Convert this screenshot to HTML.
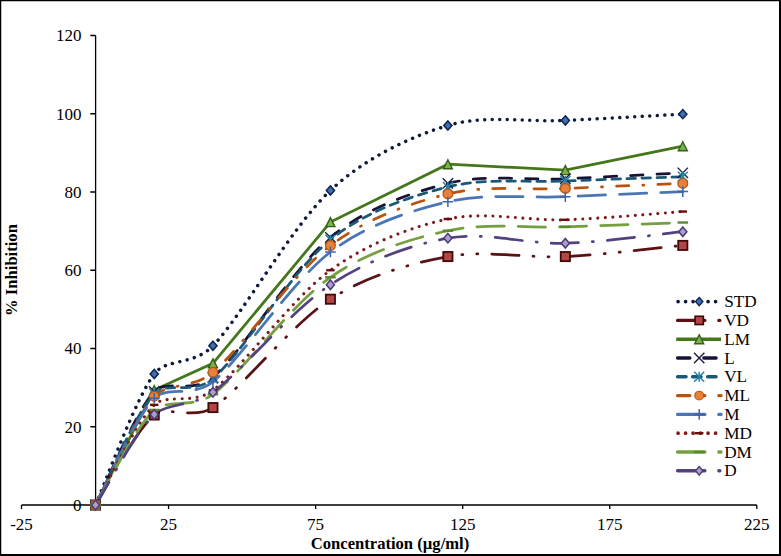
<!DOCTYPE html>
<html><head><meta charset="utf-8"><style>
html,body{margin:0;padding:0;background:#fff;}
body{width:781px;height:556px;overflow:hidden;position:relative;}
svg{position:absolute;left:0;top:0;}
text{font-family:"Liberation Serif",serif;fill:#000;}
</style></head><body>
<svg width="781" height="556" viewBox="0 0 781 556">
<rect x="0" y="0" width="781" height="556" fill="#fff"/>

<rect x="0.6" y="0.6" width="779.2" height="554.2" fill="none" stroke="#000" stroke-width="1.3"/>
<path d="M780 0V556M0 555H781" stroke="#000" stroke-width="2" fill="none"/>
<path d="M95.60 35.50V505.00 M21.50 505.00H756.80 M90.30 505.00H95.60 M90.30 426.75H95.60 M90.30 348.50H95.60 M90.30 270.25H95.60 M90.30 192.00H95.60 M90.30 113.75H95.60 M90.30 35.50H95.60 M21.50 505.00V509.00 M168.56 505.00V509.00 M315.62 505.00V509.00 M462.68 505.00V509.00 M609.74 505.00V509.00 M756.80 505.00V509.00" stroke="#000" stroke-width="1.3" fill="none"/>
<text x="81.6" y="510.80" font-size="17" text-anchor="end">0</text>
<text x="81.6" y="432.55" font-size="17" text-anchor="end">20</text>
<text x="81.6" y="354.30" font-size="17" text-anchor="end">40</text>
<text x="81.6" y="276.05" font-size="17" text-anchor="end">60</text>
<text x="81.6" y="197.80" font-size="17" text-anchor="end">80</text>
<text x="81.6" y="119.55" font-size="17" text-anchor="end">100</text>
<text x="81.6" y="41.30" font-size="17" text-anchor="end">120</text>
<text x="21.50" y="529.60" font-size="17" text-anchor="middle">-25</text>
<text x="168.56" y="529.60" font-size="17" text-anchor="middle">25</text>
<text x="315.62" y="529.60" font-size="17" text-anchor="middle">75</text>
<text x="462.68" y="529.60" font-size="17" text-anchor="middle">125</text>
<text x="609.74" y="529.60" font-size="17" text-anchor="middle">175</text>
<text x="756.80" y="529.60" font-size="17" text-anchor="middle">225</text>
<text x="390" y="549" font-size="16.6" font-weight="bold" text-anchor="middle">Concentration (µg/ml)</text>
<text transform="translate(17.2 270) rotate(-90)" font-size="16.6" font-weight="bold" text-anchor="middle">% Inhibition</text>
<path d="M95.50 505.00 C105.29 483.16 134.65 400.47 154.23 373.93 C165.98 358.01 193.58 365.95 212.96 345.76 C242.33 315.18 291.27 227.15 330.42 190.43 C364.16 158.80 408.73 137.16 447.88 125.49 C485.01 114.42 526.19 122.29 565.34 120.40 C604.49 118.51 663.22 115.18 682.80 114.14" fill="none" stroke="#0e1a3c" stroke-width="3.50" stroke-dasharray="0.01 7.49" stroke-linecap="round" stroke-dashoffset="-0.38"/>
<path d="M95.50 505.00 C105.29 490.00 134.65 431.25 154.23 415.01 C165.98 405.27 193.58 420.32 212.96 407.58 C242.33 388.28 291.27 324.37 330.42 299.20 C365.90 276.39 408.73 263.66 447.88 256.56 C486.08 249.62 526.26 258.41 565.34 256.56 C604.49 254.70 663.22 247.26 682.80 245.41" fill="none" stroke="#5a1214" stroke-width="2.75" stroke-dasharray="27.25 14.00 1.00 14.00 1.00 14.00" stroke-dashoffset="0.62" stroke-linecap="round"/>
<path d="M95.50 505.00 L154.23 389.97 L212.96 363.37 L330.42 222.13 L447.88 164.22 L565.34 170.09 L682.80 146.22" fill="none" stroke="#44761a" stroke-width="2.75"/>
<path d="M95.50 505.00 C105.29 486.09 134.65 412.80 154.23 391.54 C165.98 378.78 193.58 394.41 212.96 377.45 C242.33 351.76 291.27 269.73 330.42 237.38 C364.51 209.23 408.73 193.17 447.88 183.39 C485.57 173.98 526.19 180.46 565.34 178.70 C604.49 176.94 663.22 173.81 682.80 172.83" fill="none" stroke="#1a1236" stroke-width="2.75" stroke-dasharray="12.25 14.00" stroke-dashoffset="-4.17" stroke-linecap="round"/>
<path d="M95.50 505.00 C105.29 486.42 134.65 414.56 154.23 393.49 C165.98 380.86 193.58 395.54 212.96 378.63 C242.33 353.00 291.27 271.68 330.42 239.73 C364.52 211.90 408.73 196.69 447.88 186.91 C485.64 177.48 526.19 182.74 565.34 181.05 C604.48 179.35 663.22 177.46 682.80 176.74" fill="none" stroke="#1a5878" stroke-width="2.75" stroke-dasharray="8.50 6.50" stroke-dashoffset="-4.88" stroke-linecap="round"/>
<path d="M95.50 505.00 C105.29 486.87 134.65 418.34 154.23 396.23 C165.98 382.97 193.58 388.94 212.96 372.37 C242.33 347.26 291.27 275.34 330.42 245.60 C365.18 219.21 408.73 203.48 447.88 193.96 C485.69 184.76 526.19 190.24 565.34 188.48 C604.49 186.72 663.22 184.24 682.80 183.39" fill="none" stroke="#b8520f" stroke-width="2.75" stroke-dasharray="12.25 14.00 1.00 14.00" stroke-dashoffset="0.62" stroke-linecap="round"/>
<path d="M95.50 505.00 C105.29 487.20 134.65 418.73 154.23 398.19 C165.98 385.86 193.58 397.83 212.96 381.76 C242.33 357.40 291.27 282.05 330.42 252.06 C364.95 225.61 408.73 211.01 447.88 201.78 C485.75 192.86 526.19 198.39 565.34 196.69 C604.49 195.00 663.22 192.46 682.80 191.61" fill="none" stroke="#4a76b4" stroke-width="2.75" stroke-dasharray="27.25 14.00" stroke-dashoffset="-0.38" stroke-linecap="round"/>
<path d="M95.50 505.00 C105.29 488.31 134.65 423.95 154.23 404.84 C165.98 393.38 193.58 405.17 212.96 390.36 C242.33 367.93 291.27 298.81 330.42 270.25 C365.55 244.62 408.73 227.41 447.88 219.00 C485.69 210.87 526.22 221.02 565.34 219.78 C604.49 218.54 663.22 212.93 682.80 211.56" fill="none" stroke="#7e1a1a" stroke-width="3.10" stroke-dasharray="0.01 7.49" stroke-linecap="round" stroke-dashoffset="-3.08"/>
<path d="M95.50 505.00 C105.29 489.15 134.65 428.38 154.23 409.93 C165.98 398.85 193.58 408.87 212.96 394.28 C242.33 372.17 291.27 304.55 330.42 277.29 C365.54 252.84 408.73 239.15 447.88 230.73 C485.92 222.56 526.19 228.19 565.34 226.82 C604.49 225.45 663.22 223.23 682.80 222.52" fill="none" stroke="#74a040" stroke-width="2.75" stroke-dasharray="27.25 14.00" stroke-dashoffset="-1.38" stroke-linecap="round"/>
<path d="M95.50 505.00 C105.29 489.90 134.65 433.21 154.23 414.43 C165.98 403.16 193.58 406.59 212.96 392.32 C242.33 370.70 291.27 310.42 330.42 284.73 C366.11 261.31 408.73 245.08 447.88 238.17 C485.92 231.45 526.25 244.33 565.34 243.25 C604.49 242.18 663.22 233.64 682.80 231.71" fill="none" stroke="#54417f" stroke-width="2.75" stroke-dasharray="27.25 14.00 1.00 14.00" stroke-dashoffset="0.62" stroke-linecap="round"/>
<path d="M95.50 500.40L99.60 505.00L95.50 509.60L91.40 505.00Z" fill="#3f6fae" stroke="#0f2352" stroke-width="1.5"/>
<path d="M154.23 369.33L158.33 373.93L154.23 378.53L150.13 373.93Z" fill="#3f6fae" stroke="#0f2352" stroke-width="1.5"/>
<path d="M212.96 341.16L217.06 345.76L212.96 350.36L208.86 345.76Z" fill="#3f6fae" stroke="#0f2352" stroke-width="1.5"/>
<path d="M330.42 185.83L334.52 190.43L330.42 195.03L326.32 190.43Z" fill="#3f6fae" stroke="#0f2352" stroke-width="1.5"/>
<path d="M447.88 120.89L451.98 125.49L447.88 130.09L443.78 125.49Z" fill="#3f6fae" stroke="#0f2352" stroke-width="1.5"/>
<path d="M565.34 115.80L569.44 120.40L565.34 125.00L561.24 120.40Z" fill="#3f6fae" stroke="#0f2352" stroke-width="1.5"/>
<path d="M682.80 109.54L686.90 114.14L682.80 118.74L678.70 114.14Z" fill="#3f6fae" stroke="#0f2352" stroke-width="1.5"/>
<rect x="90.90" y="500.40" width="9.20" height="9.20" fill="#b44545" stroke="#3f0a0a" stroke-width="1.8"/>
<rect x="149.63" y="410.41" width="9.20" height="9.20" fill="#b44545" stroke="#3f0a0a" stroke-width="1.8"/>
<rect x="208.36" y="402.98" width="9.20" height="9.20" fill="#b44545" stroke="#3f0a0a" stroke-width="1.8"/>
<rect x="325.82" y="294.60" width="9.20" height="9.20" fill="#b44545" stroke="#3f0a0a" stroke-width="1.8"/>
<rect x="443.28" y="251.96" width="9.20" height="9.20" fill="#b44545" stroke="#3f0a0a" stroke-width="1.8"/>
<rect x="560.74" y="251.96" width="9.20" height="9.20" fill="#b44545" stroke="#3f0a0a" stroke-width="1.8"/>
<rect x="678.20" y="240.81" width="9.20" height="9.20" fill="#b44545" stroke="#3f0a0a" stroke-width="1.8"/>
<path d="M95.50 500.50L100.00 509.50L91.00 509.50Z" fill="#7db04a" stroke="#35601a" stroke-width="1.4" stroke-linejoin="miter"/>
<path d="M154.23 385.47L158.73 394.47L149.73 394.47Z" fill="#7db04a" stroke="#35601a" stroke-width="1.4" stroke-linejoin="miter"/>
<path d="M212.96 358.87L217.46 367.87L208.46 367.87Z" fill="#7db04a" stroke="#35601a" stroke-width="1.4" stroke-linejoin="miter"/>
<path d="M330.42 217.63L334.92 226.63L325.92 226.63Z" fill="#7db04a" stroke="#35601a" stroke-width="1.4" stroke-linejoin="miter"/>
<path d="M447.88 159.72L452.38 168.72L443.38 168.72Z" fill="#7db04a" stroke="#35601a" stroke-width="1.4" stroke-linejoin="miter"/>
<path d="M565.34 165.59L569.84 174.59L560.84 174.59Z" fill="#7db04a" stroke="#35601a" stroke-width="1.4" stroke-linejoin="miter"/>
<path d="M682.80 141.72L687.30 150.72L678.30 150.72Z" fill="#7db04a" stroke="#35601a" stroke-width="1.4" stroke-linejoin="miter"/>
<path d="M90.30 499.80L100.70 510.20M100.70 499.80L90.30 510.20" stroke="#1e1a40" stroke-width="1.4" fill="none"/>
<path d="M149.03 386.34L159.43 396.74M159.43 386.34L149.03 396.74" stroke="#1e1a40" stroke-width="1.4" fill="none"/>
<path d="M207.76 372.25L218.16 382.65M218.16 372.25L207.76 382.65" stroke="#1e1a40" stroke-width="1.4" fill="none"/>
<path d="M325.22 232.19L335.62 242.58M335.62 232.19L325.22 242.58" stroke="#1e1a40" stroke-width="1.4" fill="none"/>
<path d="M442.68 178.19L453.08 188.59M453.08 178.19L442.68 188.59" stroke="#1e1a40" stroke-width="1.4" fill="none"/>
<path d="M560.14 173.50L570.54 183.90M570.54 173.50L560.14 183.90" stroke="#1e1a40" stroke-width="1.4" fill="none"/>
<path d="M677.60 167.63L688.00 178.03M688.00 167.63L677.60 178.03" stroke="#1e1a40" stroke-width="1.4" fill="none"/>
<path d="M90.50 500.00L100.50 510.00M100.50 500.00L90.50 510.00M95.50 500.00L95.50 510.00" stroke="#1f86ab" stroke-width="1.5" fill="none"/>
<path d="M149.23 388.49L159.23 398.49M159.23 388.49L149.23 398.49M154.23 388.49L154.23 398.49" stroke="#1f86ab" stroke-width="1.5" fill="none"/>
<path d="M207.96 373.63L217.96 383.63M217.96 373.63L207.96 383.63M212.96 373.63L212.96 383.63" stroke="#1f86ab" stroke-width="1.5" fill="none"/>
<path d="M325.42 234.73L335.42 244.73M335.42 234.73L325.42 244.73M330.42 234.73L330.42 244.73" stroke="#1f86ab" stroke-width="1.5" fill="none"/>
<path d="M442.88 181.91L452.88 191.91M452.88 181.91L442.88 191.91M447.88 181.91L447.88 191.91" stroke="#1f86ab" stroke-width="1.5" fill="none"/>
<path d="M560.34 176.05L570.34 186.05M570.34 176.05L560.34 186.05M565.34 176.05L565.34 186.05" stroke="#1f86ab" stroke-width="1.5" fill="none"/>
<path d="M677.80 171.74L687.80 181.74M687.80 171.74L677.80 181.74M682.80 171.74L682.80 181.74" stroke="#1f86ab" stroke-width="1.5" fill="none"/>
<circle cx="95.50" cy="505.00" r="4.9" fill="#e6803a" stroke="#b5540f" stroke-width="1.2"/>
<circle cx="154.23" cy="396.23" r="4.9" fill="#e6803a" stroke="#b5540f" stroke-width="1.2"/>
<circle cx="212.96" cy="372.37" r="4.9" fill="#e6803a" stroke="#b5540f" stroke-width="1.2"/>
<circle cx="330.42" cy="245.60" r="4.9" fill="#e6803a" stroke="#b5540f" stroke-width="1.2"/>
<circle cx="447.88" cy="193.96" r="4.9" fill="#e6803a" stroke="#b5540f" stroke-width="1.2"/>
<circle cx="565.34" cy="188.48" r="4.9" fill="#e6803a" stroke="#b5540f" stroke-width="1.2"/>
<circle cx="682.80" cy="183.39" r="4.9" fill="#e6803a" stroke="#b5540f" stroke-width="1.2"/>
<path d="M90.20 505.00L100.80 505.00M95.50 499.70L95.50 510.30" stroke="#3d64a6" stroke-width="1.5" fill="none"/>
<path d="M148.93 398.19L159.53 398.19M154.23 392.89L154.23 403.49" stroke="#3d64a6" stroke-width="1.5" fill="none"/>
<path d="M207.66 381.76L218.26 381.76M212.96 376.46L212.96 387.06" stroke="#3d64a6" stroke-width="1.5" fill="none"/>
<path d="M325.12 252.06L335.72 252.06M330.42 246.76L330.42 257.36" stroke="#3d64a6" stroke-width="1.5" fill="none"/>
<path d="M442.58 201.78L453.18 201.78M447.88 196.48L447.88 207.08" stroke="#3d64a6" stroke-width="1.5" fill="none"/>
<path d="M560.04 196.69L570.64 196.69M565.34 191.39L565.34 202.00" stroke="#3d64a6" stroke-width="1.5" fill="none"/>
<path d="M677.50 191.61L688.10 191.61M682.80 186.31L682.80 196.91" stroke="#3d64a6" stroke-width="1.5" fill="none"/>
<path d="M91.30 505.00L99.70 505.00" stroke="#6a0c0c" stroke-width="2.4" fill="none"/>
<path d="M150.03 404.84L158.43 404.84" stroke="#6a0c0c" stroke-width="2.4" fill="none"/>
<path d="M208.76 390.36L217.16 390.36" stroke="#6a0c0c" stroke-width="2.4" fill="none"/>
<path d="M326.22 270.25L334.62 270.25" stroke="#6a0c0c" stroke-width="2.4" fill="none"/>
<path d="M443.68 219.00L452.08 219.00" stroke="#6a0c0c" stroke-width="2.4" fill="none"/>
<path d="M561.14 219.78L569.54 219.78" stroke="#6a0c0c" stroke-width="2.4" fill="none"/>
<path d="M678.60 211.56L687.00 211.56" stroke="#6a0c0c" stroke-width="2.4" fill="none"/>
<path d="M90.20 505.00L100.80 505.00" stroke="#5b8a2e" stroke-width="2.4" fill="none"/>
<path d="M148.93 409.93L159.53 409.93" stroke="#5b8a2e" stroke-width="2.4" fill="none"/>
<path d="M207.66 394.28L218.26 394.28" stroke="#5b8a2e" stroke-width="2.4" fill="none"/>
<path d="M325.12 277.29L335.72 277.29" stroke="#5b8a2e" stroke-width="2.4" fill="none"/>
<path d="M442.58 230.73L453.18 230.73" stroke="#5b8a2e" stroke-width="2.4" fill="none"/>
<path d="M560.04 226.82L570.64 226.82" stroke="#5b8a2e" stroke-width="2.4" fill="none"/>
<path d="M677.50 222.52L688.10 222.52" stroke="#5b8a2e" stroke-width="2.4" fill="none"/>
<path d="M95.50 500.20L99.60 505.00L95.50 509.80L91.40 505.00Z" fill="#ad9dcb" stroke="#4c3a7a" stroke-width="1.5"/>
<path d="M154.23 409.63L158.33 414.43L154.23 419.23L150.13 414.43Z" fill="#ad9dcb" stroke="#4c3a7a" stroke-width="1.5"/>
<path d="M212.96 387.52L217.06 392.32L212.96 397.12L208.86 392.32Z" fill="#ad9dcb" stroke="#4c3a7a" stroke-width="1.5"/>
<path d="M330.42 279.93L334.52 284.73L330.42 289.53L326.32 284.73Z" fill="#ad9dcb" stroke="#4c3a7a" stroke-width="1.5"/>
<path d="M447.88 233.37L451.98 238.17L447.88 242.97L443.78 238.17Z" fill="#ad9dcb" stroke="#4c3a7a" stroke-width="1.5"/>
<path d="M565.34 238.45L569.44 243.25L565.34 248.05L561.24 243.25Z" fill="#ad9dcb" stroke="#4c3a7a" stroke-width="1.5"/>
<path d="M682.80 226.91L686.90 231.71L682.80 236.51L678.70 231.71Z" fill="#ad9dcb" stroke="#4c3a7a" stroke-width="1.5"/>
<path d="M676.20 301.60H721.00" fill="none" stroke="#0e1a3c" stroke-width="3.70" stroke-dasharray="0.01 7.49" stroke-linecap="round" stroke-dashoffset="-1.88"/>
<g transform="translate(699.2 301.60) scale(0.9) translate(-699.2 -301.60)"><path d="M699.20 297.00L703.30 301.60L699.20 306.20L695.10 301.60Z" fill="#3f6fae" stroke="#0f2352" stroke-width="1.5"/></g>
<text x="724.2" y="307.20" font-size="17.2">STD</text>
<path d="M676.20 320.40H721.00" fill="none" stroke="#5a1214" stroke-width="3.40" stroke-dasharray="27.25 14.00 1.00 14.00 1.00 14.00" stroke-dashoffset="-1.38" stroke-linecap="round"/>
<g transform="translate(699.2 320.40) scale(0.9) translate(-699.2 -320.40)"><rect x="694.60" y="315.80" width="9.20" height="9.20" fill="#b44545" stroke="#3f0a0a" stroke-width="1.8"/></g>
<text x="724.2" y="326.00" font-size="17.2">VD</text>
<path d="M676.20 339.20H721.00" fill="none" stroke="#44761a" stroke-width="3.40"/>
<path d="M699.20 334.70L703.70 343.70L694.70 343.70Z" fill="#7db04a" stroke="#35601a" stroke-width="1.4" stroke-linejoin="miter"/>
<text x="724.2" y="344.80" font-size="17.2">LM</text>
<path d="M676.20 358.00H721.00" fill="none" stroke="#1a1236" stroke-width="3.40" stroke-dasharray="12.25 14.00" stroke-dashoffset="-1.38" stroke-linecap="round"/>
<path d="M694.00 352.80L704.40 363.20M704.40 352.80L694.00 363.20" stroke="#1e1a40" stroke-width="1.4" fill="none"/>
<text x="724.2" y="363.60" font-size="17.2">L</text>
<path d="M676.20 376.80H721.00" fill="none" stroke="#1a5878" stroke-width="3.40" stroke-dasharray="8.50 6.50" stroke-dashoffset="-1.38" stroke-linecap="round"/>
<path d="M694.20 371.80L704.20 381.80M704.20 371.80L694.20 381.80M699.20 371.80L699.20 381.80" stroke="#1f86ab" stroke-width="1.5" fill="none"/>
<text x="724.2" y="382.40" font-size="17.2">VL</text>
<path d="M676.20 395.60H721.00" fill="none" stroke="#b8520f" stroke-width="3.40" stroke-dasharray="12.25 14.00 1.00 14.00" stroke-dashoffset="-1.38" stroke-linecap="round"/>
<g transform="translate(699.2 395.60) scale(0.9) translate(-699.2 -395.60)"><circle cx="699.20" cy="395.60" r="4.9" fill="#e6803a" stroke="#b5540f" stroke-width="1.2"/></g>
<text x="724.2" y="401.20" font-size="17.2">ML</text>
<path d="M676.20 414.40H721.00" fill="none" stroke="#4a76b4" stroke-width="3.40" stroke-dasharray="27.25 14.00" stroke-dashoffset="-1.38" stroke-linecap="round"/>
<path d="M693.90 414.40L704.50 414.40M699.20 409.10L699.20 419.70" stroke="#3d64a6" stroke-width="1.5" fill="none"/>
<text x="724.2" y="420.00" font-size="17.2">M</text>
<path d="M676.20 433.20H721.00" fill="none" stroke="#7e1a1a" stroke-width="3.70" stroke-dasharray="0.01 7.49" stroke-linecap="round" stroke-dashoffset="-1.88"/>
<path d="M695.00 433.20L703.40 433.20" stroke="#6a0c0c" stroke-width="2.4" fill="none"/>
<text x="724.2" y="438.80" font-size="17.2">MD</text>
<path d="M676.20 452.00H721.00" fill="none" stroke="#74a040" stroke-width="3.40" stroke-dasharray="27.25 14.00" stroke-dashoffset="-1.38" stroke-linecap="round"/>
<path d="M693.90 452.00L704.50 452.00" stroke="#5b8a2e" stroke-width="2.4" fill="none"/>
<text x="724.2" y="457.60" font-size="17.2">DM</text>
<path d="M676.20 470.80H721.00" fill="none" stroke="#54417f" stroke-width="3.40" stroke-dasharray="27.25 14.00 1.00 14.00" stroke-dashoffset="-1.38" stroke-linecap="round"/>
<g transform="translate(699.2 470.80) scale(0.9) translate(-699.2 -470.80)"><path d="M699.20 466.00L703.30 470.80L699.20 475.60L695.10 470.80Z" fill="#ad9dcb" stroke="#4c3a7a" stroke-width="1.5"/></g>
<text x="724.2" y="476.40" font-size="17.2">D</text>
</svg>
</body></html>
